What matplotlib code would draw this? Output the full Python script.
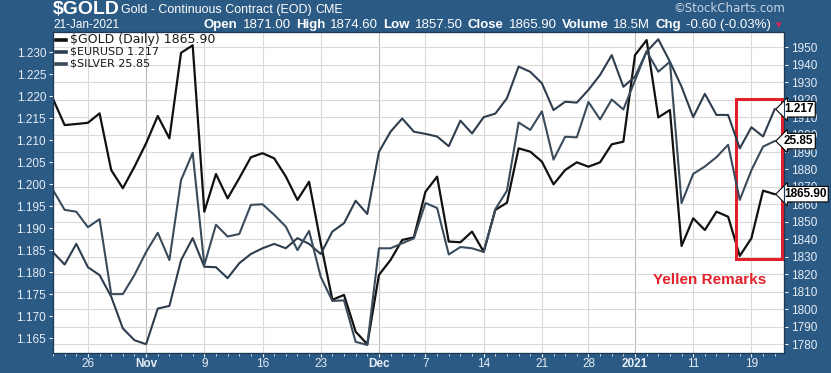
import numpy as np
import pandas as pd
import matplotlib
matplotlib.use('Agg')
import matplotlib.pyplot as plt
import matplotlib.patches as patches
import matplotlib.transforms as mtransforms

# trading days on the chart (exchange holidays dropped)
holidays = ['2020-11-26', '2020-12-25', '2021-01-01', '2021-01-18']
dates = pd.bdate_range('2020-10-21', '2021-01-21')
dates = dates[~dates.isin(pd.to_datetime(holidays))]

gold = [1920.3, 1905.4, 1906.0, 1906.7, 1912.1, 1879.7, 1869.3, 1881.6, 1895.0, 1910.6,
        1897.8, 1946.7, 1951.0, 1855.9, 1877.4, 1863.5, 1875.0, 1887.0, 1889.3, 1886.4,
        1876.0, 1862.6, 1873.0, 1838.0, 1805.5, 1808.3, 1787.3, 1780.1, 1819.7, 1828.3,
        1839.7, 1841.2, 1867.3, 1875.9, 1838.8, 1838.4, 1844.5, 1833.0, 1856.9, 1861.0,
        1892.1, 1890.2, 1884.5, 1871.5, 1879.7, 1884.1, 1881.6, 1884.1, 1894.4, 1895.9,
        1945.4, 1954.0, 1909.8, 1914.0, 1836.3, 1852.1, 1845.4, 1855.9, 1853.0, 1830.6,
        1840.7, 1867.9, 1865.9]
eurusd = [1.1845, 1.1817, 1.1864, 1.1811, 1.1793, 1.1744, 1.1672, 1.1645, 1.1636, 1.1717,
          1.1723, 1.1827, 1.1877, 1.1812, 1.1811, 1.1786, 1.1820, 1.1841, 1.1854, 1.1864,
          1.1854, 1.1877, 1.1864, 1.1841, 1.1892, 1.1911, 1.1962, 1.1932, 1.2073, 1.2119,
          1.2149, 1.2119, 1.2114, 1.2108, 1.2086, 1.2144, 1.2115, 1.2152, 1.2160, 1.2195,
          1.2267, 1.2255, 1.2229, 1.2168, 1.2187, 1.2185, 1.2214, 1.2248, 1.2293, 1.2221,
          1.2244, 1.2301, 1.2329, 1.2278, 1.2221, 1.2152, 1.2205, 1.2157, 1.2157, 1.2081,
          1.2129, 1.2108, 1.2170]
silver = [25.06, 24.74, 24.71, 24.46, 24.59, 23.38, 23.38, 23.69, 24.06, 24.37,
          23.93, 25.22, 25.66, 23.85, 24.50, 24.31, 24.35, 24.82, 24.83, 24.66,
          24.47, 24.09, 24.40, 23.66, 23.27, 23.28, 22.61, 22.56, 24.12, 24.12,
          24.20, 24.28, 24.85, 24.77, 24.02, 24.14, 24.12, 24.06, 24.75, 25.05,
          26.15, 26.03, 26.33, 25.55, 25.92, 25.91, 26.48, 26.20, 26.52, 26.36,
          26.83, 27.30, 26.97, 27.13, 24.85, 25.32, 25.44, 25.59, 25.79, 24.90,
          25.38, 25.76, 25.85]

left_ticks = np.arange(1.165, 1.2301, 0.005)
right_ticks = np.arange(1780, 1951, 10)

W, H = 831, 373
BLUE = '#2b5a85'
LIGHT = '#e6edf5'
GRID = '#dadada'
ARIAL = 'Liberation Sans'

def fx(x):
    return x / W

def fy(y):
    return 1 - y / H

x = np.arange(len(dates))

# week and month starts for the x ticks
week_start = [i for i in range(1, len(dates)) if dates[i].weekday() < dates[i - 1].weekday()]
month_start = [i for i in range(1, len(dates)) if dates[i].month != dates[i - 1].month]
month_weeks = [dates[m].isocalendar()[1] for m in month_start]
ticks = sorted(set(month_start) | {w for w in week_start if dates[w].isocalendar()[1] not in month_weeks})
tick_labels = []
for t in ticks:
    d = dates[t]
    if t in month_start:
        tick_labels.append(str(d.year) if d.month == 1 else d.strftime('%b'))
    else:
        tick_labels.append(str(d.day))

fig = plt.figure(figsize=(W / 100, H / 100), dpi=100, facecolor=BLUE)
ax = fig.add_axes([fx(53), fy(353), 731 / W, 321 / H])  # gold scale, right
axL = ax.twinx()   # EURUSD, left
axS = ax.twinx()   # silver, hidden scale

ax.set_facecolor('white')
ax.set_xlim(0.53, 62.8)
ax.set_ylim(1775.1, 1958.6)
axL.set_ylim(1.1616, 1.23455)
axS.set_ylim(22.43, 27.61)

ax.set_yticks(right_ticks)
ax.grid(axis='y', color=GRID, lw=0.8)
for t, lab in zip(ticks, tick_labels):
    ax.axvline(t, color='#bcbcbc' if not lab.isdigit() or len(lab) == 4 else GRID, lw=0.8, zorder=0)

ax.plot(x, gold, color='#111111', lw=1.6, zorder=3)
axL.plot(x, eurusd, color='#2e3d4d', lw=1.5)
axS.plot(x, silver, color='#3a4b5c', lw=1.5)

# axes styling
ax.yaxis.tick_right()
ax.tick_params(axis='y', colors=LIGHT, labelsize=8.5, length=3, direction='out', pad=2)
for lab in ax.get_yticklabels():
    lab.set_family(ARIAL)
axL.yaxis.tick_left()
axL.set_yticks(left_ticks)
axL.set_yticklabels([f'{v:.3f}' for v in left_ticks], family=ARIAL)
axL.tick_params(axis='y', colors=LIGHT, labelsize=8.5, length=3, pad=2)
axS.set_yticks([])
axS.tick_params(axis='y', length=0, labelright=False)

ax.set_xticks(ticks)
ax.set_xticklabels(tick_labels, family=ARIAL)
ax.set_xticks(x, minor=True)
ax.tick_params(axis='x', which='major', colors=LIGHT, labelsize=8.5, length=3, pad=0.5)
ax.tick_params(axis='x', which='minor', colors=LIGHT, length=2)
for lab in ax.get_xticklabels():
    if not lab.get_text().isdigit() or len(lab.get_text()) == 4:
        lab.set_fontweight('bold')
for a in (ax, axL, axS):
    for s in a.spines.values():
        s.set_color('#1c3a58')

# legend
leg = [(f'$GOLD (Daily) {gold[-1]:.2f}', '#111111', 9, 40),
       (f'$EURUSD {eurusd[-1]:.3f}', '#2e3d4d', 8, 52),
       (f'$SILVER {silver[-1]:.2f}', '#3a4b5c', 8, 64)]
for txt, col, size, yy in leg:
    fig.add_artist(plt.Line2D([fx(56), fx(66)], [fy(yy), fy(yy)], color=col, lw=2.6))
    fig.text(fx(70), fy(yy), txt, fontsize=size, color='#1a1a1a', va='center', family='DejaVu Sans')

# last value flags on the right
flags = [(axL, eurusd[-1], f'{eurusd[-1]:.3f}'),
         (axS, silver[-1], f'{silver[-1]:.2f}'),
         (ax, gold[-1], f'{gold[-1]:.2f}')]
for a, v, txt in flags:
    tr = mtransforms.blended_transform_factory(a.transAxes, a.transData)
    a.text(1.0, v, txt, transform=tr, ha='left', va='center', fontsize=8.5,
           fontweight='bold', family=ARIAL, color='black', zorder=10, clip_on=False,
           bbox=dict(boxstyle='larrow,pad=0.15', fc='white', ec='black', lw=0.8))

# Yellen annotation
ax.add_patch(patches.Rectangle((58.7, 1829), 3.9, 91.5, fill=False, ec='#e0202a', lw=2.2, zorder=5))
ax.text(56.4, 1817, 'Yellen Remarks', color='#e0202a', fontsize=11, fontweight='bold',
        family=ARIAL, ha='center', va='center')

# header
renderer = fig.canvas.get_renderer()

def run(xp, yp, parts, size, gap=3.5):
    for s, w, c in parts:
        t = fig.text(fx(xp), fy(yp), s, fontsize=size, fontweight=w, color=c,
                     va='center', ha='left', family=ARIAL)
        xp += t.get_window_extent(renderer=renderer).width + gap
    return xp

run(53, 10, [('$GOLD', 'bold', 'white')], 14)
run(121, 10, [('Gold - Continuous Contract (EOD)', 'normal', 'white'), ('CME', 'normal', 'white')], 9)
fig.text(fx(53), fy(25), '21-Jan-2021', fontsize=8.5, color='white', va='center', family=ARIAL)
end = run(204, 25, [('Open', 'bold', 'white'), ('1871.00', 'normal', 'white'),
                    ('High', 'bold', 'white'), ('1874.60', 'normal', 'white'),
                    ('Low', 'bold', 'white'), ('1857.50', 'normal', 'white'),
                    ('Close', 'bold', 'white'), ('1865.90', 'normal', 'white'),
                    ('Volume', 'bold', 'white'), ('18.5M', 'normal', 'white'),
                    ('Chg', 'bold', 'white'), ('-0.60 (-0.03%)', 'normal', 'white')], 9.5, gap=5)
fig.text(fx(end), fy(25), '\u25bc', fontsize=5, color='#e0205a', va='center', family='DejaVu Sans')
fig.text(fx(785), fy(8), '\u00a9StockCharts.com', fontsize=8.5, color='#c9d6e4', va='center',
         ha='right', family='DejaVu Sans')

fig.savefig('out.png', dpi=100, facecolor=BLUE)
